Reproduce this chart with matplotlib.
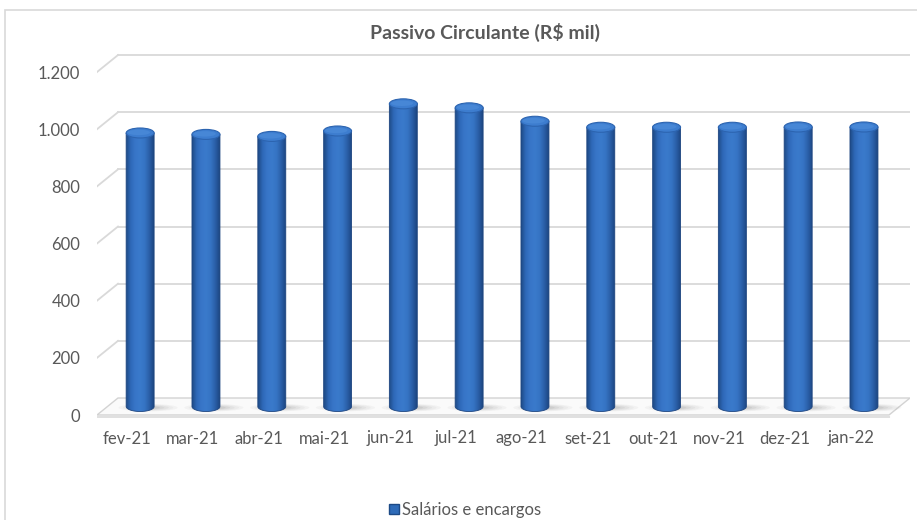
import numpy as np
import matplotlib
matplotlib.use("Agg")
import matplotlib.pyplot as plt
from matplotlib.patches import Ellipse, PathPatch, Polygon, Rectangle, Patch
from matplotlib.path import Path
from matplotlib.colors import LinearSegmentedColormap

plt.rcParams['font.family'] = ['Lato', 'DejaVu Sans']

months = ["fev-21", "mar-21", "abr-21", "mai-21", "jun-21", "jul-21",
          "ago-21", "set-21", "out-21", "nov-21", "dez-21", "jan-22"]
salarios = [957, 952, 945, 964, 1059, 1045, 998, 977, 977, 977, 978, 978]
yticks = [0, 200, 400, 600, 800, 1000, 1200]
ytick_labels = ["0", "200", "400", "600", "800", "1.000", "1.200"]
series_name = "Salários e encargos"

W, H = 917, 520
fig = plt.figure(figsize=(W / 100, H / 100), dpi=100)
fig.patch.set_facecolor("white")

# axes frame = front plane of the 3D box (pixel guides)
left_px, right_px, top_px, bot_px = 97, 910, 50, 418
ax = fig.add_axes([left_px / W, 1 - bot_px / H, (right_px - left_px) / W, (bot_px - top_px) / H])
px_per_cat = 65.8
px_per_val = 285.8 / 1000
x0 = (left_px - 127) / px_per_cat
x1 = (right_px - 127) / px_per_cat
ax.set_xlim(x0, x1)
ax.set_ylim((415 - bot_px) / px_per_val, (415 - top_px) / px_per_val)
for s in ax.spines.values():
    s.set_visible(False)

# depth offsets (back wall)
dx = 21 / px_per_cat
dy = 17 / px_per_val
grid_c = "#D9D9D9"

# back wall gridlines + diagonal side lines
for v in yticks[1:]:
    ax.plot([x0 + dx, x1], [v + dy, v + dy], color=grid_c, lw=1.3, zorder=1)
    ax.plot([x0, x0 + dx], [v, v + dy], color=grid_c, lw=1.3, zorder=1)

# floor
floor = Polygon([[x0, 0], [x1 - dx, 0], [x1, dy], [x0 + dx, dy]], closed=True,
                facecolor="#FAFAFA", edgecolor="#D3D3D3", lw=1.0, zorder=1)
ax.add_patch(floor)
ax.plot([x0, x1 - dx], [-8, -8], color="#E0E0E0", lw=1.5, zorder=1)

cmap = LinearSegmentedColormap.from_list(
    "cyl", ["#1e4a85", "#2e68b8", "#3876c8", "#3a7acb", "#3674c4", "#2a5fa8", "#1c4580"])
grad = np.linspace(0, 1, 256).reshape(1, -1)

r = 14 / px_per_cat
eh = 10 / px_per_val
shift = 0.2
base = dy / 2

for i, v in enumerate(salarios):
    cx = i + shift
    top = v + dy / 2
    # shadow on floor
    for k, a in zip(range(5), [0.04, 0.04, 0.05, 0.06, 0.07]):
        sc = 1 - k * 0.15
        ax.add_patch(Ellipse((cx + 0.12, base - 4), 0.9 * sc, 26 * sc,
                             facecolor="#404040", edgecolor="none", alpha=a, zorder=2))
    # body
    t = np.linspace(np.pi, 2 * np.pi, 40)
    bottom_x = cx + r * np.cos(t)
    bottom_y = base + eh / 2 * np.sin(t)
    verts = [(cx - r, top)] + list(zip(bottom_x, bottom_y)) + [(cx + r, top), (cx - r, top)]
    path = Path(verts)
    body = PathPatch(path, facecolor="none", edgecolor="#1d4580", lw=0.6, zorder=4)
    ax.add_patch(body)
    im = ax.imshow(grad, extent=[cx - r, cx + r, base - eh, top], aspect="auto",
                   cmap=cmap, zorder=3, interpolation="bicubic")
    im.set_clip_path(body)
    # top cap
    ax.add_patch(Ellipse((cx, top), 2 * r, eh, facecolor="#3d7dcf",
                         edgecolor="#2c64b0", lw=0.8, zorder=5))
    ax.add_patch(Ellipse((cx - 0.02, top + 2), 2 * r * 0.8, eh * 0.55, facecolor="#4787d6",
                         edgecolor="none", zorder=5))

ax.set_xticks(range(len(months)))
ax.set_xticklabels(months)
ax.set_yticks(yticks)
ax.set_yticklabels(ytick_labels)
ax.tick_params(axis="x", length=0, pad=9, labelsize=12, labelcolor="#595959")
ax.tick_params(axis="y", length=0, pad=12, labelsize=12, labelcolor="#595959")

fig.text(485 / W, 1 - 32 / H, "Passivo Circulante (R$ mil)", ha="center", va="center",
         fontsize=14, fontweight="bold", color="#595959")

fig.legend([Patch(facecolor="#2e6bb8", edgecolor="#1d4a86")], [series_name],
           loc="center", bbox_to_anchor=(465 / W, 10 / H), frameon=False,
           handlelength=0.6, handleheight=0.6, handletextpad=0.2,
           fontsize=12, labelcolor="#595959")

fig.add_artist(Rectangle((5 / W, -0.1), 1.2, 1 - 10 / H + 0.1, transform=fig.transFigure,
                         fill=False, edgecolor="#D9D9D9", lw=1.2))

fig.savefig("out.png", dpi=100)
